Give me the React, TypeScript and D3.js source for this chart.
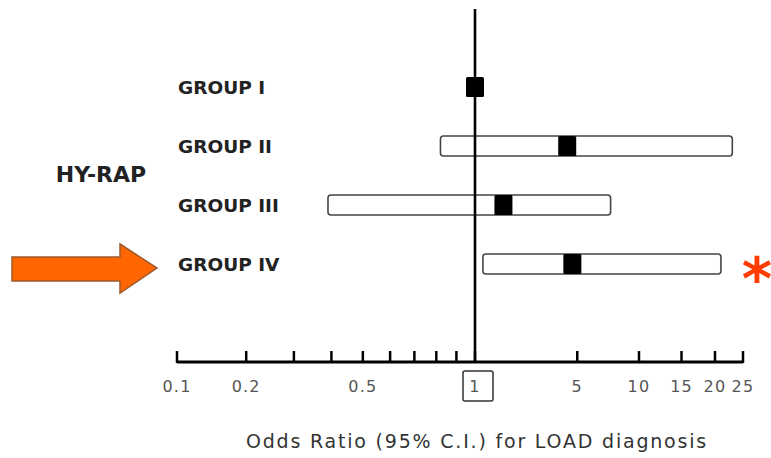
import React, { useEffect, useRef } from 'react';
import * as d3 from 'd3';

// forest plot: odds ratio with 95% CI per group
const groups = ['GROUP I', 'GROUP II', 'GROUP III', 'GROUP IV'];
const oddsRatio = [1, 4.4, 1.7, 4.7];
const ciLower = [null, 0.82, 0.39, 1.17];
const ciUpper = [null, 23, 7.4, 21];

const tickValues = [0.1, 0.2, 0.3, 0.4, 0.5, 0.6, 0.7, 0.8, 0.9, 1, 5, 10, 15, 20, 25];
const tickLabels = [0.1, 0.2, 0.5, 1, 5, 10, 15, 20, 25];

const W = 771;
const H = 458;

const App = () => {
  const ref = useRef<SVGSVGElement>(null);

  useEffect(() => {
    const svg = d3.select(ref.current);
    svg.selectAll('*').remove();

    const axisY = 362;

    // the original axis is stretched differently on each side of 1
    const x = d3.scalePow().exponent(0.3)
      .domain([0.1, 1, 25])
      .range([177, 475, 743]);

    const y = d3.scalePoint<string>()
      .domain(groups)
      .range([87, 264]);

    const font = 'DejaVu Sans, Verdana, sans-serif';

    // group labels
    svg.append('g')
      .selectAll('text')
      .data(groups)
      .enter()
      .append('text')
      .attr('x', 178)
      .attr('y', d => y(d)!)
      .attr('dy', '0.36em')
      .attr('font-family', font)
      .attr('font-weight', 'bold')
      .attr('font-size', 18.5)
      .attr('fill', '#222')
      .text(d => d);

    svg.append('text')
      .attr('x', 101)
      .attr('y', 174)
      .attr('dy', '0.36em')
      .attr('text-anchor', 'middle')
      .attr('font-family', font)
      .attr('font-weight', 'bold')
      .attr('font-size', 22)
      .attr('fill', '#222')
      .text('HY-RAP');

    const rows = groups.map((g, i) => ({
      g, or: oddsRatio[i], lo: ciLower[i], hi: ciUpper[i],
    }));

    const boxH = 20;

    // confidence interval boxes
    svg.append('g')
      .selectAll('rect')
      .data(rows.filter(r => r.lo != null))
      .enter()
      .append('rect')
      .attr('x', r => x(r.lo as number))
      .attr('y', r => y(r.g)! - boxH / 2)
      .attr('width', r => x(r.hi as number) - x(r.lo as number))
      .attr('height', boxH)
      .attr('rx', 3)
      .attr('fill', '#fff')
      .attr('stroke', '#444')
      .attr('stroke-width', 1.6);

    // reference line at OR = 1
    svg.append('line')
      .attr('x1', x(1)).attr('x2', x(1))
      .attr('y1', 9).attr('y2', axisY)
      .attr('stroke', '#000')
      .attr('stroke-width', 2.6);

    // point estimates
    svg.append('g')
      .selectAll('rect')
      .data(rows)
      .enter()
      .append('rect')
      .attr('x', r => x(r.or) - 9)
      .attr('y', r => y(r.g)! - boxH / 2)
      .attr('width', 18)
      .attr('height', boxH)
      .attr('rx', 1.5)
      .attr('fill', '#000');

    // axis
    const axis = svg.append('g');
    axis.append('line')
      .attr('x1', x(0.1)).attr('x2', x(25))
      .attr('y1', axisY).attr('y2', axisY)
      .attr('stroke', '#000')
      .attr('stroke-width', 3);
    axis.selectAll('line.tick')
      .data(tickValues)
      .enter()
      .append('line')
      .attr('class', 'tick')
      .attr('x1', d => x(d)).attr('x2', d => x(d))
      .attr('y1', axisY - 11).attr('y2', axisY + 1)
      .attr('stroke', '#000')
      .attr('stroke-width', 2.5);
    axis.selectAll('text')
      .data(tickLabels)
      .enter()
      .append('text')
      .attr('x', d => x(d))
      .attr('y', 392)
      .attr('text-anchor', 'middle')
      .attr('font-family', font)
      .attr('font-size', 16)
      .attr('letter-spacing', 1.2)
      .attr('fill', '#555')
      .text(d => String(d));
    axis.append('rect')
      .attr('x', x(1) - 12)
      .attr('y', 371)
      .attr('width', 30)
      .attr('height', 30)
      .attr('rx', 2)
      .attr('fill', 'none')
      .attr('stroke', '#333')
      .attr('stroke-width', 1.5);

    svg.append('text')
      .attr('x', 477)
      .attr('y', 448)
      .attr('text-anchor', 'middle')
      .attr('font-family', font)
      .attr('font-size', 19)
      .attr('letter-spacing', 1.8)
      .attr('fill', '#333')
      .text('Odds Ratio (95% C.I.) for LOAD diagnosis');

    // highlight arrow and significance star
    svg.append('path')
      .attr('d', 'M12,257 L120,257 L120,244 L157,268 L120,293 L120,281 L12,281 Z')
      .attr('fill', '#ff6600')
      .attr('stroke', '#9c5a2e')
      .attr('stroke-width', 1.5);

    svg.append('text')
      .attr('x', 757)
      .attr('y', 299)
      .attr('text-anchor', 'middle')
      .attr('font-family', font)
      .attr('font-weight', 'bold')
      .attr('font-size', 58)
      .attr('fill', '#ff3d00')
      .text('*');
  }, []);

  return (
    <svg ref={ref} width={W} height={H}
      style={{ position: 'absolute', left: 0, top: 0, background: '#fff' }} />
  );
};

export default App;
